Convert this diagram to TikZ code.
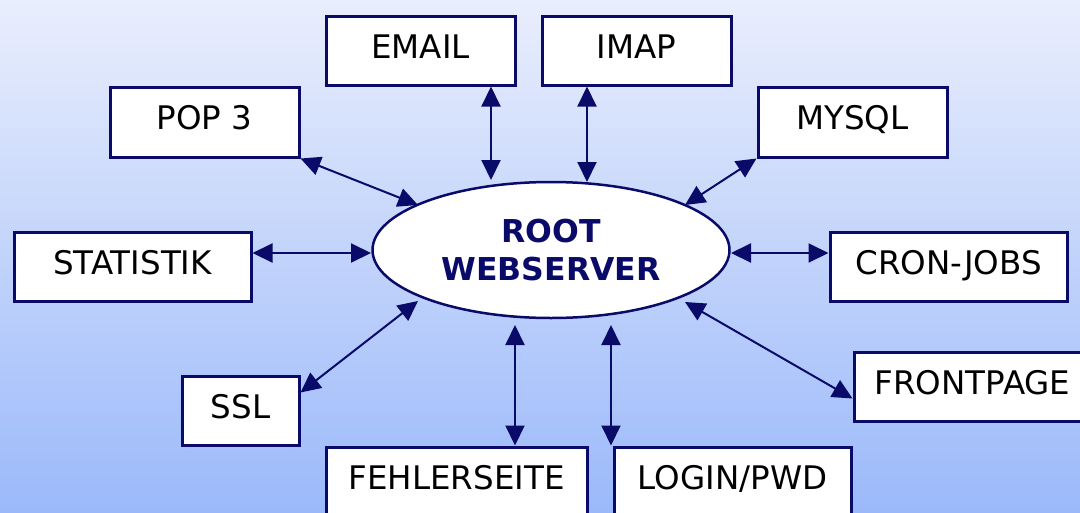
\documentclass[tikz,border=0pt]{standalone}
\usepackage{fontspec}
\setmainfont{DejaVu Sans}
\usetikzlibrary{arrows.meta,shapes.geometric}
\definecolor{navy}{RGB}{10,10,105}
\definecolor{bgtop}{RGB}{233,238,252}
\definecolor{bgbot}{RGB}{155,185,250}
\tikzset{
  box/.style={draw=navy, line width=3pt, fill=white, anchor=north west, inner sep=0pt,
    font=\fontsize{32.5}{38}\selectfont, text=black, text height=23.7pt, text depth=8pt},
  arr/.style={draw=navy, line width=2pt, {Triangle[length=20pt,width=19pt]}-{Triangle[length=20pt,width=19pt]}},
  hub/.style={draw=navy, line width=2.5pt, fill=white, ellipse, inner sep=0pt,
    minimum width=357pt, minimum height=136pt, text=navy, align=center,
    font=\fontsize{31.5}{38.5}\selectfont\bfseries}
}
\begin{document}
\begin{tikzpicture}[x=1pt,y=-1pt]
\useasboundingbox (0,0) rectangle (1080,512);
\clip (0,0) rectangle (1080,512);
\shade[top color=bgtop, bottom color=bgbot] (0,0) rectangle (1080,512);

\node[hub] (root) at (551,250) {ROOT\\WEBSERVER};

\node[box, minimum width=189pt, minimum height=69pt] (email) at (324.5,14.5) {EMAIL};
\node[box, minimum width=189pt, minimum height=69pt] (imap) at (540.5,14.5) {IMAP};
\node[box, minimum width=189pt, minimum height=70pt] (pop) at (108.5,85.5) {POP 3};
\node[box, minimum width=189pt, minimum height=70pt] (mysql) at (756.5,85.5) {MYSQL};
\node[box, minimum width=237pt, minimum height=69pt] (stat) at (12.5,230.5) {STATISTIK};
\node[box, minimum width=237pt, minimum height=69pt] (cron) at (828.5,230.5) {CRON-JOBS};
\node[box, minimum width=117pt, minimum height=69pt] (ssl) at (180.5,374.5) {SSL};
\node[box, minimum width=261pt, minimum height=69pt] (fehler) at (324.5,445.5) {FEHLERSEITE};
\node[box, minimum width=237pt, minimum height=69pt] (login) at (612.5,445.5) {LOGIN/PWD};
\node[box, minimum width=237pt, minimum height=69pt] (front) at (852.5,350.5) {FRONTPAGE};

\coordinate (rE) at (491,180);
\coordinate (rI) at (587,182);
\coordinate (rP) at (418,205);
\coordinate (rM) at (685,205);
\coordinate (rS) at (371,253);
\coordinate (rC) at (731,253);
\coordinate (rL) at (418,301);
\coordinate (rF) at (515,325);
\coordinate (rW) at (611,325);
\coordinate (rT) at (685,302);
\path (ssl.north east) ++(0,18) coordinate (sslp);
\path (front.west) ++(0,12) coordinate (frp);

\draw[arr] (email.south -| rE) -- (rE);
\draw[arr] (imap.south -| rI) -- (rI);
\draw[arr] (pop.south east) -- (rP);
\draw[arr] (mysql.south west) -- (rM);
\draw[arr] (stat.east |- rS) -- (rS);
\draw[arr] (cron.west |- rC) -- (rC);
\draw[arr] (sslp) -- (rL);
\draw[arr] (fehler.north -| rF) -- (rF);
\draw[arr] (login.north -| rW) -- (rW);
\draw[arr] (frp) -- (rT);
\end{tikzpicture}
\end{document}
